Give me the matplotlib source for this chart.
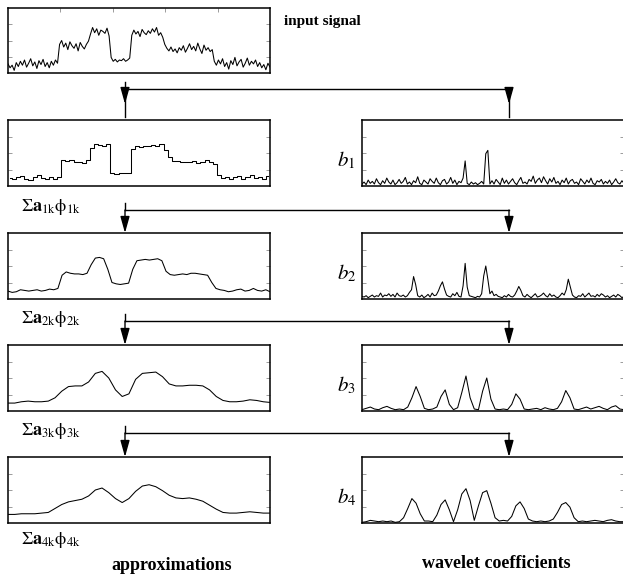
import numpy as np
import matplotlib.pyplot as plt

plt.rcParams['font.family'] = 'Liberation Serif'
plt.rcParams['mathtext.fontset'] = 'stix'

# signal heights, in percent of the box height
input_signal = [14, 8, 12, 4, 16, 10, 18, 12, 20, 9, 15, 22, 11, 17, 7, 19, 13, 21, 10, 16, 8, 18, 12, 20, 15,
                44, 50, 40, 46, 36, 48, 42, 38, 45, 34, 47, 41, 37, 44, 49,
                60, 70, 62, 68, 58, 66, 64, 61, 69, 57,
                24, 18, 21, 17, 20, 19, 22, 18, 20, 23,
                58, 66, 60, 64, 56, 67, 62, 59, 65, 61, 68, 63, 70, 58, 62, 55,
                44, 38, 34, 40, 33, 37, 31, 39, 35, 42, 32, 38, 45, 36, 41, 34, 46, 37, 30, 43, 35, 39, 33, 36,
                18, 12, 20, 14, 22, 10, 16, 6, 19, 13, 24, 11, 17, 21, 9, 15, 23, 12, 18, 14, 20, 10, 16, 8,
                13, 5, 15, 9]

a1 = [12, 10, 14, 15, 11, 9, 13, 16, 12, 10, 14, 11, 13,
      40, 38, 39, 36, 37, 35, 40,
      58, 64, 62, 60, 63,
      20, 18, 19, 19, 20,
      56, 60, 59, 61, 60, 62, 61, 63, 55,
      44, 38, 38, 36, 37, 36, 38, 35, 37, 39, 36, 34,
      16, 12, 14, 10, 13, 15, 11, 14, 16, 12, 13, 10, 15]

a2 = [12, 10, 11, 14, 13, 12, 13, 14, 12, 13, 15, 14, 16,
      36, 41, 39, 38, 38, 37, 39,
      52, 62, 63, 61, 45, 25, 23, 22, 23, 24,
      45, 58, 59, 60, 59, 60, 61, 58, 42,
      37, 36, 37, 38, 37, 39, 39, 38, 37, 36,
      25, 16, 14, 13, 11, 12, 14, 15, 12, 13, 16, 13, 12, 14, 11]

a3 = [12, 12, 14, 15, 14, 14, 15, 20, 30, 37, 38, 38, 44, 57, 60, 50, 32, 22, 26, 48,
      57, 58, 59, 52, 41, 38, 38, 39, 39, 38, 32, 22, 16, 14, 14, 15, 17, 16, 14, 13]

a4 = [13, 13, 14, 14, 14, 15, 16, 22, 28, 32, 34, 36, 41, 50, 53, 46, 37, 31, 37, 48,
      56, 58, 55, 49, 42, 38, 37, 38, 36, 33, 27, 21, 16, 15, 15, 16, 17, 16, 15, 15]

b1 = [3, 6, 2, 9, 4, 7, 3, 11, 5, 2, 8, 4, 12, 6, 3, 9, 2, 5, 10, 4,
      7, 13, 3, 6, 2, 8, 5, 14, 4, 2, 9, 6, 3, 11, 7, 4, 12, 5, 2, 8,
      10, 3, 6, 13, 4, 9, 2, 7, 5, 12, 38, 4, 2, 6, 3, 5, 2, 4, 7, 3,
      49, 54, 3, 8, 3, 10, 6, 2, 12, 4, 9, 3, 7, 11, 5, 2, 8, 13, 4, 6,
      3, 10, 7, 15, 4, 9, 12, 5, 14, 8, 3, 11, 6, 13, 4, 7, 2, 9, 5, 12,
      3, 8, 10, 4, 6, 2, 11, 7, 3, 9, 5, 12, 4, 2, 8, 6, 10, 3, 7, 4,
      9, 2, 6, 11, 5, 3, 8, 4]

b2 = [4, 3, 5, 2, 4, 6, 3, 5, 4, 9, 3, 6, 5, 8, 4, 7, 3, 9, 5, 4,
      6, 3, 5, 10, 14, 34, 22, 5, 3, 6, 2, 4, 7, 3, 9, 5, 6, 12, 20, 26,
      15, 6, 4, 3, 8, 5, 10, 4, 3, 20, 54, 18, 5, 4, 3, 2, 4, 3, 8, 35,
      50, 30, 8, 12, 5, 7, 4, 3, 2, 5, 3, 7, 4, 3, 6, 12, 19, 13, 5, 3,
      7, 4, 2, 5, 8, 3, 4, 6, 9, 5, 3, 8, 4, 6, 3, 2, 5, 9, 6, 14,
      30, 18, 6, 3, 2, 5, 4, 8, 3, 6, 9, 4, 5, 3, 7, 4, 8, 6, 3, 5,
      2, 4, 6, 3, 7, 5, 2, 4]

b3 = [2, 4, 6, 3, 2, 5, 7, 4, 2, 3, 2, 6,
      20, 37, 22, 4, 2, 3, 6, 22, 32, 10,
      2, 5, 28, 53, 20, 3, 2, 30, 50, 18, 3, 2, 3, 2,
      10, 26, 18, 3, 2, 3, 4, 2, 5, 3, 2, 4,
      14, 31, 20, 3, 2, 4, 6, 3, 5, 7, 4, 2,
      6, 8, 3, 2]

b4 = [1, 2, 4, 3, 2, 3, 2, 3, 1, 2,
      8, 22, 37, 30, 14, 3, 3, 2, 12, 28,
      35, 20, 2, 20, 44, 52, 34, 4, 26, 46,
      49, 30, 8, 3, 4, 3, 10, 26, 32, 22,
      6, 3, 2, 3, 2, 3, 6, 16, 28, 31,
      24, 8, 2, 3, 2, 3, 4, 3, 2, 4, 5, 3, 2, 2]

approx = [a1, a2, a3, a4]
details = [b1, b2, b3, b4]

W, H = 623, 579
fig = plt.figure(figsize=(W / 100, H / 100), dpi=100)


def box(x0, y0, x1, y1, values, steps=False, top_ticks=False):
    # axes placed by pixel corners (y from the top)
    ax = fig.add_axes([x0 / W, 1 - y1 / H, (x1 - x0) / W, (y1 - y0) / H])
    x = np.arange(len(values))
    if steps:
        ax.plot(x, values, color='black', lw=0.75, drawstyle='steps-mid')
        ax.set_xlim(-0.5, len(values) - 0.5)
    else:
        ax.plot(x, values, color='black', lw=0.75)
        ax.set_xlim(0, len(values) - 1)
    ax.set_ylim(0, 100)
    ax.set_yticks([25, 50, 75])
    n = ax.get_xlim()
    ax.set_xticks([n[0] + f * (n[1] - n[0]) for f in (0.2, 0.4, 0.6, 0.8)])
    ax.tick_params(direction='in', length=3, width=0.6, color='0.55',
                   left=True, right=True, bottom=False, top=top_ticks,
                   labelleft=False, labelbottom=False)
    for s in ax.spines.values():
        s.set_linewidth(1.1)
    return ax


box(8, 8, 270, 73, input_signal, top_ticks=True)

row_tops = [120, 233, 345, 457]
for i, top in enumerate(row_tops):
    box(8, top, 270, top + 66, approx[i], steps=(i == 0))
    box(362, top, 624, top + 66, details[i])

ov = fig.add_axes([0, 0, 1, 1])
ov.set_xlim(0, W)
ov.set_ylim(H, 0)
ov.axis('off')

head = dict(arrowstyle='-|>,head_length=1.0,head_width=0.28', color='black',
            lw=1, shrinkA=0, shrinkB=0, mutation_scale=10)
xl, xr = 125, 509

# split from the input signal
ov.plot([xl, xr], [89, 89], color='black', lw=1)
ov.plot([xl, xl], [82, 117], color='black', lw=1)
ov.plot([xr, xr], [89, 117], color='black', lw=1)
for xa in (xl, xr):
    ov.annotate('', xy=(xa, 104), xytext=(xa, 94), arrowprops=head)

# split from each approximation
for cy, top in zip([210, 321, 433], row_tops[1:]):
    ov.plot([xl, xr], [cy, cy], color='black', lw=1)
    ov.plot([xl, xl], [cy - 7, cy], color='black', lw=1)
    for xa in (xl, xr):
        ov.annotate('', xy=(xa, top), xytext=(xa, cy), arrowprops=head)

ov.text(284, 22, 'input signal', fontsize=11, fontweight='bold', va='center')

sum_labels = [r'$\Sigma\mathbf{a}_{\mathrm{%dk}}\mathrm{\phi}_{\mathrm{%dk}}$' % (k, k)
              for k in range(1, 5)]
for lab, y in zip(sum_labels, [207, 319, 431, 540]):
    ov.text(21, y, lab, fontsize=13, va='center')

for k, top in enumerate(row_tops):
    ov.text(337, top + 40, r'$b_{\mathit{%d}}$' % (k + 1), fontsize=15, va='center')

ov.text(172, 565, 'approximations', ha='center', va='center', fontsize=13, fontweight='bold')
ov.text(496, 563, 'wavelet coefficients', ha='center', va='center', fontsize=13, fontweight='bold')

fig.savefig('out.png', dpi=100)
